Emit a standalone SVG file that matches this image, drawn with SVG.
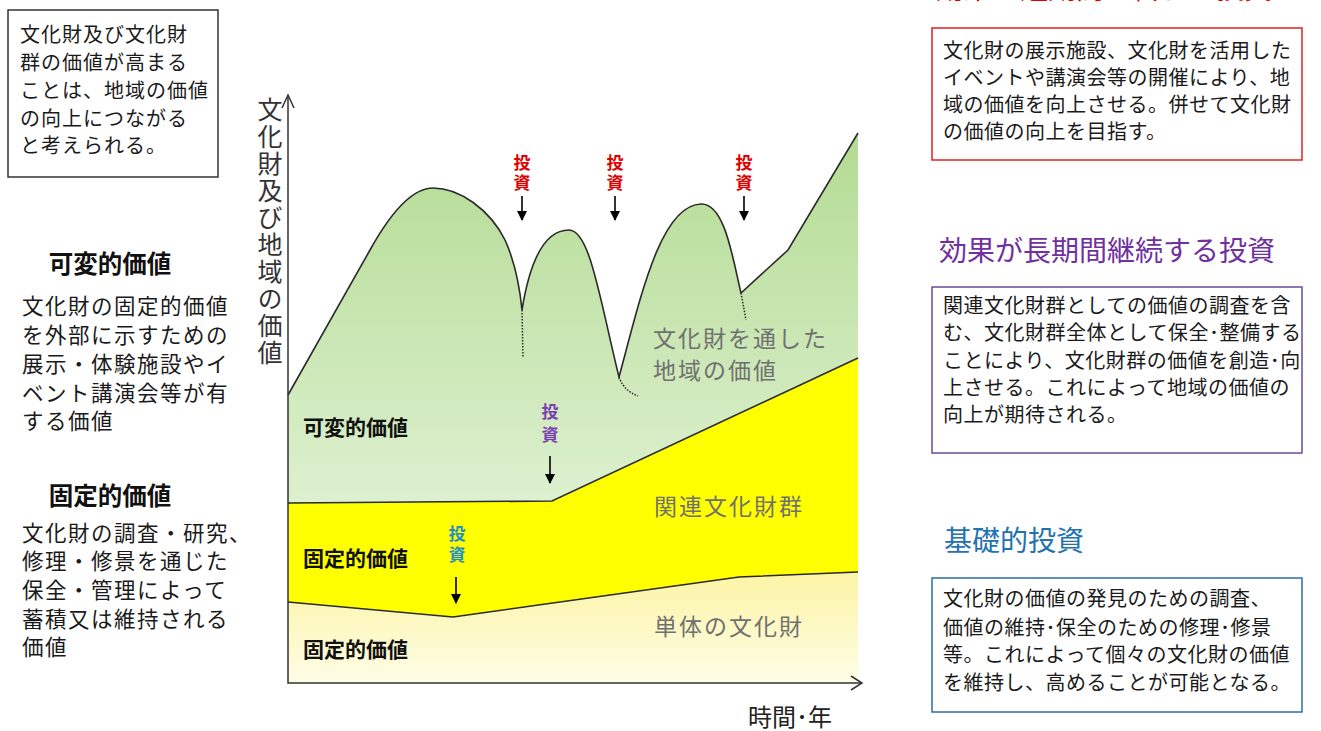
<svg xmlns="http://www.w3.org/2000/svg" width="1321" height="731" viewBox="0 0 1321 731">
<defs>
<style>
text{font-family:"Noto Sans CJK JP","Noto Sans CJK SC",sans-serif;}
.body{font-size:20px;fill:#1a1a1a;letter-spacing:0.5px;}
.lbody{font-size:21.5px;fill:#1a1a1a;letter-spacing:1.5px;}
.head{font-size:24.5px;font-weight:700;fill:#111;}
.cl{font-size:21px;font-weight:700;fill:#111;}
.grey{font-size:23px;fill:#707070;letter-spacing:2px;}
.inv{font-size:17px;font-weight:700;writing-mode:vertical-rl;letter-spacing:3px;}
.edge{fill:none;stroke:#2a2a2a;stroke-width:1.6;}
.dot{fill:none;stroke:#2a2a2a;stroke-width:1.5;stroke-dasharray:1.5 1.5;}
.arr{stroke:#000;stroke-width:1.6;}
</style>
<linearGradient id="green" gradientUnits="userSpaceOnUse" x1="0" y1="130" x2="0" y2="500">
<stop offset="0" stop-color="#b3db92"/>
<stop offset="1" stop-color="#ddf0cf"/>
</linearGradient>
<linearGradient id="pale" gradientUnits="userSpaceOnUse" x1="0" y1="575" x2="0" y2="683">
<stop offset="0" stop-color="#fcf4a6"/>
<stop offset="1" stop-color="#fefde6"/>
</linearGradient>
<marker id="ah" viewBox="0 0 10 10" refX="9" refY="5" markerWidth="10" markerHeight="10" markerUnits="userSpaceOnUse" orient="auto">
<path d="M0,0 L10,5 L0,10 Z" fill="#000"/>
</marker>
</defs>
<rect width="1321" height="731" fill="#fff"/>

<g id="chart-areas">
<path id="area-region" d="M288,395 L370,250 C395,205 415,188 433,188 C460,188 490,210 505,240 C515,262 520,290 522,310 C530,260 545,230 569,230 C590,230 600,300 619,377 C640,300 660,205 701,204 C725,203 733,260 741,293 L788,250 L858,133 L858,683 L288,683 Z" fill="url(#green)"/>
<path id="area-group" d="M288,503 L552,501 L858,358 L858,572 L739,577 L453,617 L288,602 Z" fill="#ffff00"/>
<path id="area-single" d="M288,602 L453,617 L739,577 L858,572 L858,683 L288,683 Z" fill="url(#pale)"/>
</g>

<g id="connectors">
<path class="edge" d="M288,395 L370,250 C395,205 415,188 433,188 C460,188 490,210 505,240 C515,262 520,290 522,310 C530,260 545,230 569,230 C590,230 600,300 619,377 C640,300 660,205 701,204 C725,203 733,260 741,293 L788,250 L858,133"/>
<path class="dot" d="M522,310 L523,358"/>
<path class="dot" d="M619,377 C623,388 630,393 638,396"/>
<path class="dot" d="M741,293 L746,320"/>
<path class="edge" d="M288,503 L552,501 L858,358"/>
<path class="edge" d="M288,602 L453,617 L739,577 L858,572"/>
<path d="M288,95 L288,683 L862,683" fill="none" stroke="#333" stroke-width="1.5"/>
<path d="M282,108 L288,95 L294,108" fill="none" stroke="#333" stroke-width="1.5"/>
<path d="M851,676 L862,683 L851,690" fill="none" stroke="#333" stroke-width="1.5"/>
<line class="arr" x1="522" y1="196" x2="522" y2="220" marker-end="url(#ah)"/>
<line class="arr" x1="615" y1="196" x2="615" y2="220" marker-end="url(#ah)"/>
<line class="arr" x1="744" y1="196" x2="744" y2="220" marker-end="url(#ah)"/>
<line class="arr" x1="550" y1="456" x2="550" y2="483" marker-end="url(#ah)"/>
<line class="arr" x1="456" y1="577" x2="456" y2="603" marker-end="url(#ah)"/>
</g>

<g id="axis-labels">
<text x="270" y="97" style="font-size:25px;fill:#333;writing-mode:vertical-rl;letter-spacing:2px">文化財及び地域の価値</text>
<text x="748" y="726" style="font-size:24px;fill:#222">時間･年</text>
</g>

<g id="investments">
<text class="inv" x="522" y="154" fill="#e00000">投資</text>
<text class="inv" x="615" y="154" fill="#e00000">投資</text>
<text class="inv" x="744" y="154" fill="#e00000">投資</text>
<text class="inv" x="550" y="403" fill="#7a3fb0" style="letter-spacing:6px">投資</text>
<text class="inv" x="457" y="525" fill="#1f8fc4" style="letter-spacing:4px">投資</text>
</g>

<g id="chart-labels">
<text class="grey" x="653" y="347">文化財を通した</text>
<text class="grey" x="653" y="379">地域の価値</text>
<text class="cl" x="303" y="435">可変的価値</text>
<text class="grey" x="654" y="515">関連文化財群</text>
<text class="cl" x="303" y="566">固定的価値</text>
<text class="grey" x="654" y="635">単体の文化財</text>
<text class="cl" x="303" y="657">固定的価値</text>
</g>

<g id="note-box">
<rect x="8" y="10" width="210" height="167" fill="#fff" stroke="#333" stroke-width="1.5"/>
<text class="body" style="font-size:20px;letter-spacing:1px"><tspan x="20" y="42">文化財及び文化財</tspan><tspan x="20" y="70">群の価値が高まる</tspan><tspan x="20" y="98">ことは、地域の価値</tspan><tspan x="20" y="126">の向上につながる</tspan><tspan x="20" y="153">と考えられる。</tspan></text>
</g>

<g id="variable-value">
<text class="head" x="110" y="273" text-anchor="middle">可変的価値</text>
<text class="lbody"><tspan x="22" y="314">文化財の固定的価値</tspan><tspan x="22" y="343">を外部に示すための</tspan><tspan x="22" y="372">展示・体験施設やイ</tspan><tspan x="22" y="401">ベント講演会等が有</tspan><tspan x="22" y="429">する価値</tspan></text>
</g>

<g id="fixed-value">
<text class="head" x="110" y="505" text-anchor="middle">固定的価値</text>
<text class="lbody"><tspan x="22" y="541">文化財の調査・研究、</tspan><tspan x="22" y="569">修理・修景を通じた</tspan><tspan x="22" y="598">保全・管理によって</tspan><tspan x="22" y="627">蓄積又は維持される</tspan><tspan x="22" y="655">価値</tspan></text>
</g>

<g id="short-term">
<text x="936" y="-1" style="font-size:28px;fill:#e00000">効果が短期間で終わる投資</text>
<rect x="932" y="28" width="370" height="132" fill="#fff" stroke="#e02020" stroke-width="1.5"/>
<text class="body"><tspan x="943" y="58">文化財の展示施設、文化財を活用した</tspan><tspan x="943" y="85">イベントや講演会等の開催により、地</tspan><tspan x="943" y="112">域の価値を向上させる。併せて文化財</tspan><tspan x="943" y="139">の価値の向上を目指す。</tspan></text>
</g>

<g id="long-term">
<text x="939" y="261" style="font-size:28px;fill:#7030a0">効果が長期間継続する投資</text>
<rect x="932" y="287" width="370" height="166" fill="#fff" stroke="#6a4a9a" stroke-width="1.5"/>
<text class="body"><tspan x="943" y="313">関連文化財群としての価値の調査を含</tspan><tspan x="943" y="340">む、文化財群全体として保全･整備する</tspan><tspan x="943" y="368">ことにより、文化財群の価値を創造･向</tspan><tspan x="943" y="395">上させる。これによって地域の価値の</tspan><tspan x="943" y="422">向上が期待される。</tspan></text>
</g>

<g id="basic">
<text x="944" y="551" style="font-size:28px;fill:#2372b0">基礎的投資</text>
<rect x="932" y="578" width="370" height="134" fill="#fff" stroke="#2a6fa8" stroke-width="1.5"/>
<text class="body"><tspan x="943" y="606">文化財の価値の発見のための調査、</tspan><tspan x="943" y="635">価値の維持･保全のための修理･修景</tspan><tspan x="943" y="662">等。これによって個々の文化財の価値</tspan><tspan x="943" y="690">を維持し、高めることが可能となる。</tspan></text>
</g>
</svg>
